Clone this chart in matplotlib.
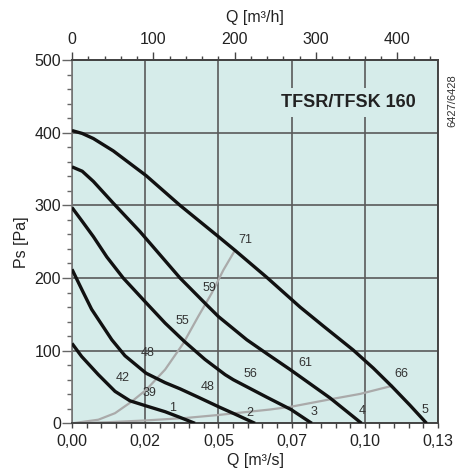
import numpy as np
import matplotlib
matplotlib.use('Agg')
import matplotlib.pyplot as plt
from matplotlib.ticker import MultipleLocator

plt.rcParams['font.family'] = ['Liberation Sans', 'DejaVu Sans']

# fan curves, Q in m3/s, Ps in Pa
q1 = [0, 0.0033, 0.009, 0.0147, 0.0198, 0.0253, 0.0318, 0.037, 0.042]
p1 = [110, 92, 67, 44, 31, 24, 16, 8, 0]
q2 = [0, 0.0035, 0.0067, 0.0136, 0.0181, 0.0253, 0.0318, 0.0369, 0.0431, 0.0505, 0.0555, 0.0625]
p2 = [212, 183, 157, 115, 93, 69, 56, 47.5, 36, 22, 13, 0]
q3 = [0, 0.0035, 0.0073, 0.0119, 0.0175, 0.0253, 0.0318, 0.0383, 0.0454, 0.0523, 0.0551, 0.0665, 0.0748, 0.0819]
p3 = [297, 278, 257, 229, 200, 166, 138, 113, 88, 67, 60, 36, 19, 0]
q4 = [0, 0.0035, 0.0073, 0.0141, 0.0232, 0.0369, 0.046, 0.05, 0.0597, 0.0665, 0.0745, 0.0881, 0.0989]
p4 = [353, 347, 333, 303, 264, 200, 163, 147, 115, 96, 74, 35, 0]
q5 = [0, 0.0035, 0.0073, 0.0141, 0.0253, 0.0369, 0.05, 0.0557, 0.0665, 0.0779, 0.0858, 0.096, 0.1029, 0.1092, 0.1154, 0.1211]
p5 = [403, 399, 392, 375, 341, 300, 257, 238, 201, 160, 134, 101, 76, 51, 25, 0]
fan_q = [q1, q2, q3, q4, q5]
fan_p = [p1, p2, p3, p4, p5]

# system curves (grey)
qa = [0, 0.009, 0.0147, 0.0204, 0.0253, 0.0318, 0.038, 0.0431, 0.0477, 0.0517, 0.0557]
pa = [0, 5, 14, 30, 46, 74, 110, 147, 179, 211, 238.5]
qb = [0, 0.012, 0.0253, 0.0392, 0.05, 0.0676, 0.075, 0.0881, 0.0984, 0.1092]
pb = [0, 1.5, 4, 7.5, 11.5, 19, 23, 33, 40.5, 51.5]

# labels on the chart: text, Q, Ps
lbl_text = ['71', '59', '55', '48', '42', '39', '1', '48', '2', '56', '61', '3', '4', '66', '5']
lbl_q = [0.0591, 0.0471, 0.0377, 0.0259, 0.0172, 0.0266, 0.0343, 0.0463, 0.0608, 0.0608, 0.0796, 0.0826, 0.0991, 0.1126, 0.1206]
lbl_p = [253, 186.6, 141, 96.3, 62, 42, 20.6, 49.5, 14.6, 67.8, 83.4, 16, 17.4, 67.8, 18.3]

xticks = [0, 0.025, 0.05, 0.075, 0.1, 0.125]
xtick_labels = ['0,00', '0,02', '0,05', '0,07', '0,10', '0,13']
top_ticks = [0, 100, 200, 300, 400]
yticks = [0, 100, 200, 300, 400, 500]

fig = plt.figure(figsize=(4.6, 4.73), dpi=100)
ax = fig.add_axes([0.1565, 0.105, 0.7957, 0.768])
ax.set_facecolor('#d6ecea')
ax.set_xlim(0, 0.125)
ax.set_ylim(0, 500)

ax.grid(True, color='#5a5a5a', linewidth=1.2)
ax.set_axisbelow(True)

ax.plot(qa, pa, color='#aaaaaa', lw=1.6, zorder=2, solid_joinstyle='round')
ax.plot(qb, pb, color='#aaaaaa', lw=1.6, zorder=2, solid_joinstyle='round')
for q, p in zip(fan_q, fan_p):
    ax.plot(q, p, color='#111111', lw=2.4, zorder=3, solid_capstyle='butt',
            solid_joinstyle='round')

for t, q, p in zip(lbl_text, lbl_q, lbl_p):
    ax.text(q, p, t, fontsize=9, color='#333333', ha='center', va='center', zorder=4)

ax.text(0.0943, 441.5, 'TFSR/TFSK 160', fontsize=13, fontweight='bold', color='#222222',
        ha='center', va='center', zorder=4,
        bbox=dict(boxstyle='square,pad=0.35', facecolor='#d6ecea', edgecolor='none'))

ax.set_xticks(xticks)
ax.set_xticklabels(xtick_labels)
ax.xaxis.set_minor_locator(MultipleLocator(0.005))
ax.set_yticks(yticks)
ax.yaxis.set_minor_locator(MultipleLocator(20))
ax.tick_params(axis='x', which='both', direction='out', length=3.6, width=1, color='#444444',
               labelsize=11.5, pad=4, labelcolor='#222222')
ax.tick_params(axis='y', which='major', direction='out', length=7, width=1, color='#666666',
               labelsize=11.5, pad=1, labelcolor='#222222')
ax.tick_params(axis='y', which='minor', direction='out', length=3.5, width=1, color='#666666')

sec = ax.secondary_xaxis('top', functions=(lambda q: q * 3600, lambda h: h / 3600))
sec.set_xticks(top_ticks)
sec.xaxis.set_minor_locator(MultipleLocator(20))
sec.tick_params(axis='x', which='major', direction='out', length=5.8, width=1, color='#444444',
                labelsize=11.5, pad=3.5, labelcolor='#222222')
sec.tick_params(axis='x', which='minor', direction='out', length=2.8, width=1, color='#444444')
sec.spines['top'].set_color('#444444')
sec.spines['top'].set_linewidth(1.4)
sec.set_xlabel('Q [m³/h]', fontsize=11.5, color='#222222', labelpad=7)

for side in ['top', 'right', 'bottom']:
    ax.spines[side].set_color('#444444')
    ax.spines[side].set_linewidth(1.4)
ax.spines['left'].set_color('#777777')
ax.spines['left'].set_linewidth(1.2)

ax.set_xlabel('Q [m³/s]', fontsize=11.5, color='#222222', labelpad=3)
ax.set_ylabel('Ps [Pa]', fontsize=11.5, color='#222222', labelpad=4)

fig.text(0.984, 0.787, '6427/6428', rotation=90, fontsize=8, color='#333333',
         ha='center', va='center')

fig.savefig('out.png', dpi=100)
